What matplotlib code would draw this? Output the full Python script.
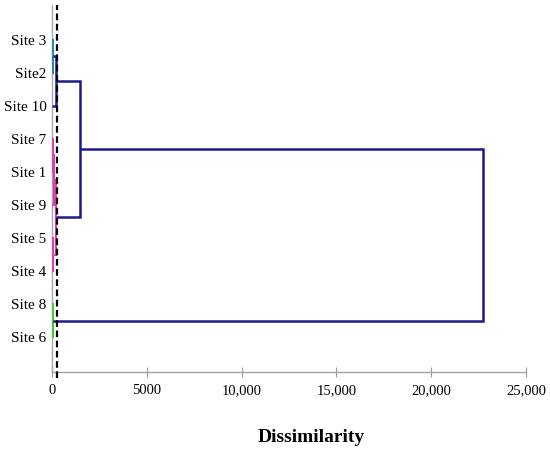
import matplotlib
matplotlib.use("Agg")
import matplotlib.pyplot as plt

# ---- data ----
sites = ["Site 3", "Site2", "Site 10", "Site 7", "Site 1", "Site 9",
         "Site 5", "Site 4", "Site 8", "Site 6"]          # top to bottom
# merges: (name, left, right, dissimilarity, colour key)
merge_names = ["A", "B", "C", "D", "E", "F", "G", "H", "I"]
merge_left = ["Site 3", "A", "Site 7", "C", "Site 5", "D", "B", "Site 8", "G"]
merge_right = ["Site2", "Site 10", "Site 1", "Site 9", "Site 4", "E", "F", "Site 6", "H"]
merge_height = [70, 230, 40, 80, 40, 230, 1500, 50, 22750]
merge_color = ["teal", "navy", "magenta", "magenta", "magenta", "magenta", "navy", "green", "navy"]
threshold = 290
x_ticks = [0, 5000, 10000, 15000, 20000, 25000]
x_ticklabels = ["0", "5000", "10,000", "15,000", "20,000", "25,000"]
x_label = "Dissimilarity"

palette = {"teal": "#2F86A8", "navy": "#1A1A8A", "magenta": "#E040A8", "green": "#3CCB3C"}
widths = {"teal": 1.5, "navy": 1.8, "magenta": 1.5, "green": 1.5}

fig = plt.figure(figsize=(5.5, 4.5), dpi=100)
ax = fig.add_axes([52 / 550, 1 - 372 / 450, (526 - 52) / 550, (372 - 5) / 450])

n = len(sites)
pos = {s: n - i for i, s in enumerate(sites)}
hgt = {s: 0.0 for s in sites}
for name, l, r, h, c in zip(merge_names, merge_left, merge_right, merge_height, merge_color):
    col = palette[c]
    lw = widths[c]
    yl, yr = pos[l], pos[r]
    ax.plot([hgt[l], h, h, hgt[r]], [yl, yl, yr, yr], color=col, lw=lw,
            solid_joinstyle="miter", solid_capstyle="butt", zorder=3)
    pos[name] = (yl + yr) / 2
    hgt[name] = h

ax.axvline(threshold, color="black", lw=1.6, dashes=(3, 1.6), zorder=4, clip_on=False,
           ymin=-0.015, ymax=1)

ax.set_xlim(0, 25000)
ax.set_ylim(-0.05, 11.05)
ax.set_yticks([n - i for i in range(n)])
ax.set_yticklabels(sites, family="Liberation Serif", fontsize=11)
ax.set_xticks(x_ticks)
ax.set_xticklabels(x_ticklabels, family="Liberation Serif", fontsize=10.5)
ax.tick_params(axis="y", length=0, pad=4)
ax.tick_params(axis="x", direction="inout", length=7, width=0.8, color="#9A9A9A", pad=5)

for side in ["top", "right"]:
    ax.spines[side].set_visible(False)
for side in ["left", "bottom"]:
    ax.spines[side].set_color("#A6A6A6")
    ax.spines[side].set_linewidth(1.0)

fig.text(311 / 550, 1 - 438 / 450, x_label, family="Liberation Serif", fontsize=14,
         fontweight="bold", ha="center", va="center")

fig.savefig("out.png", dpi=100)
